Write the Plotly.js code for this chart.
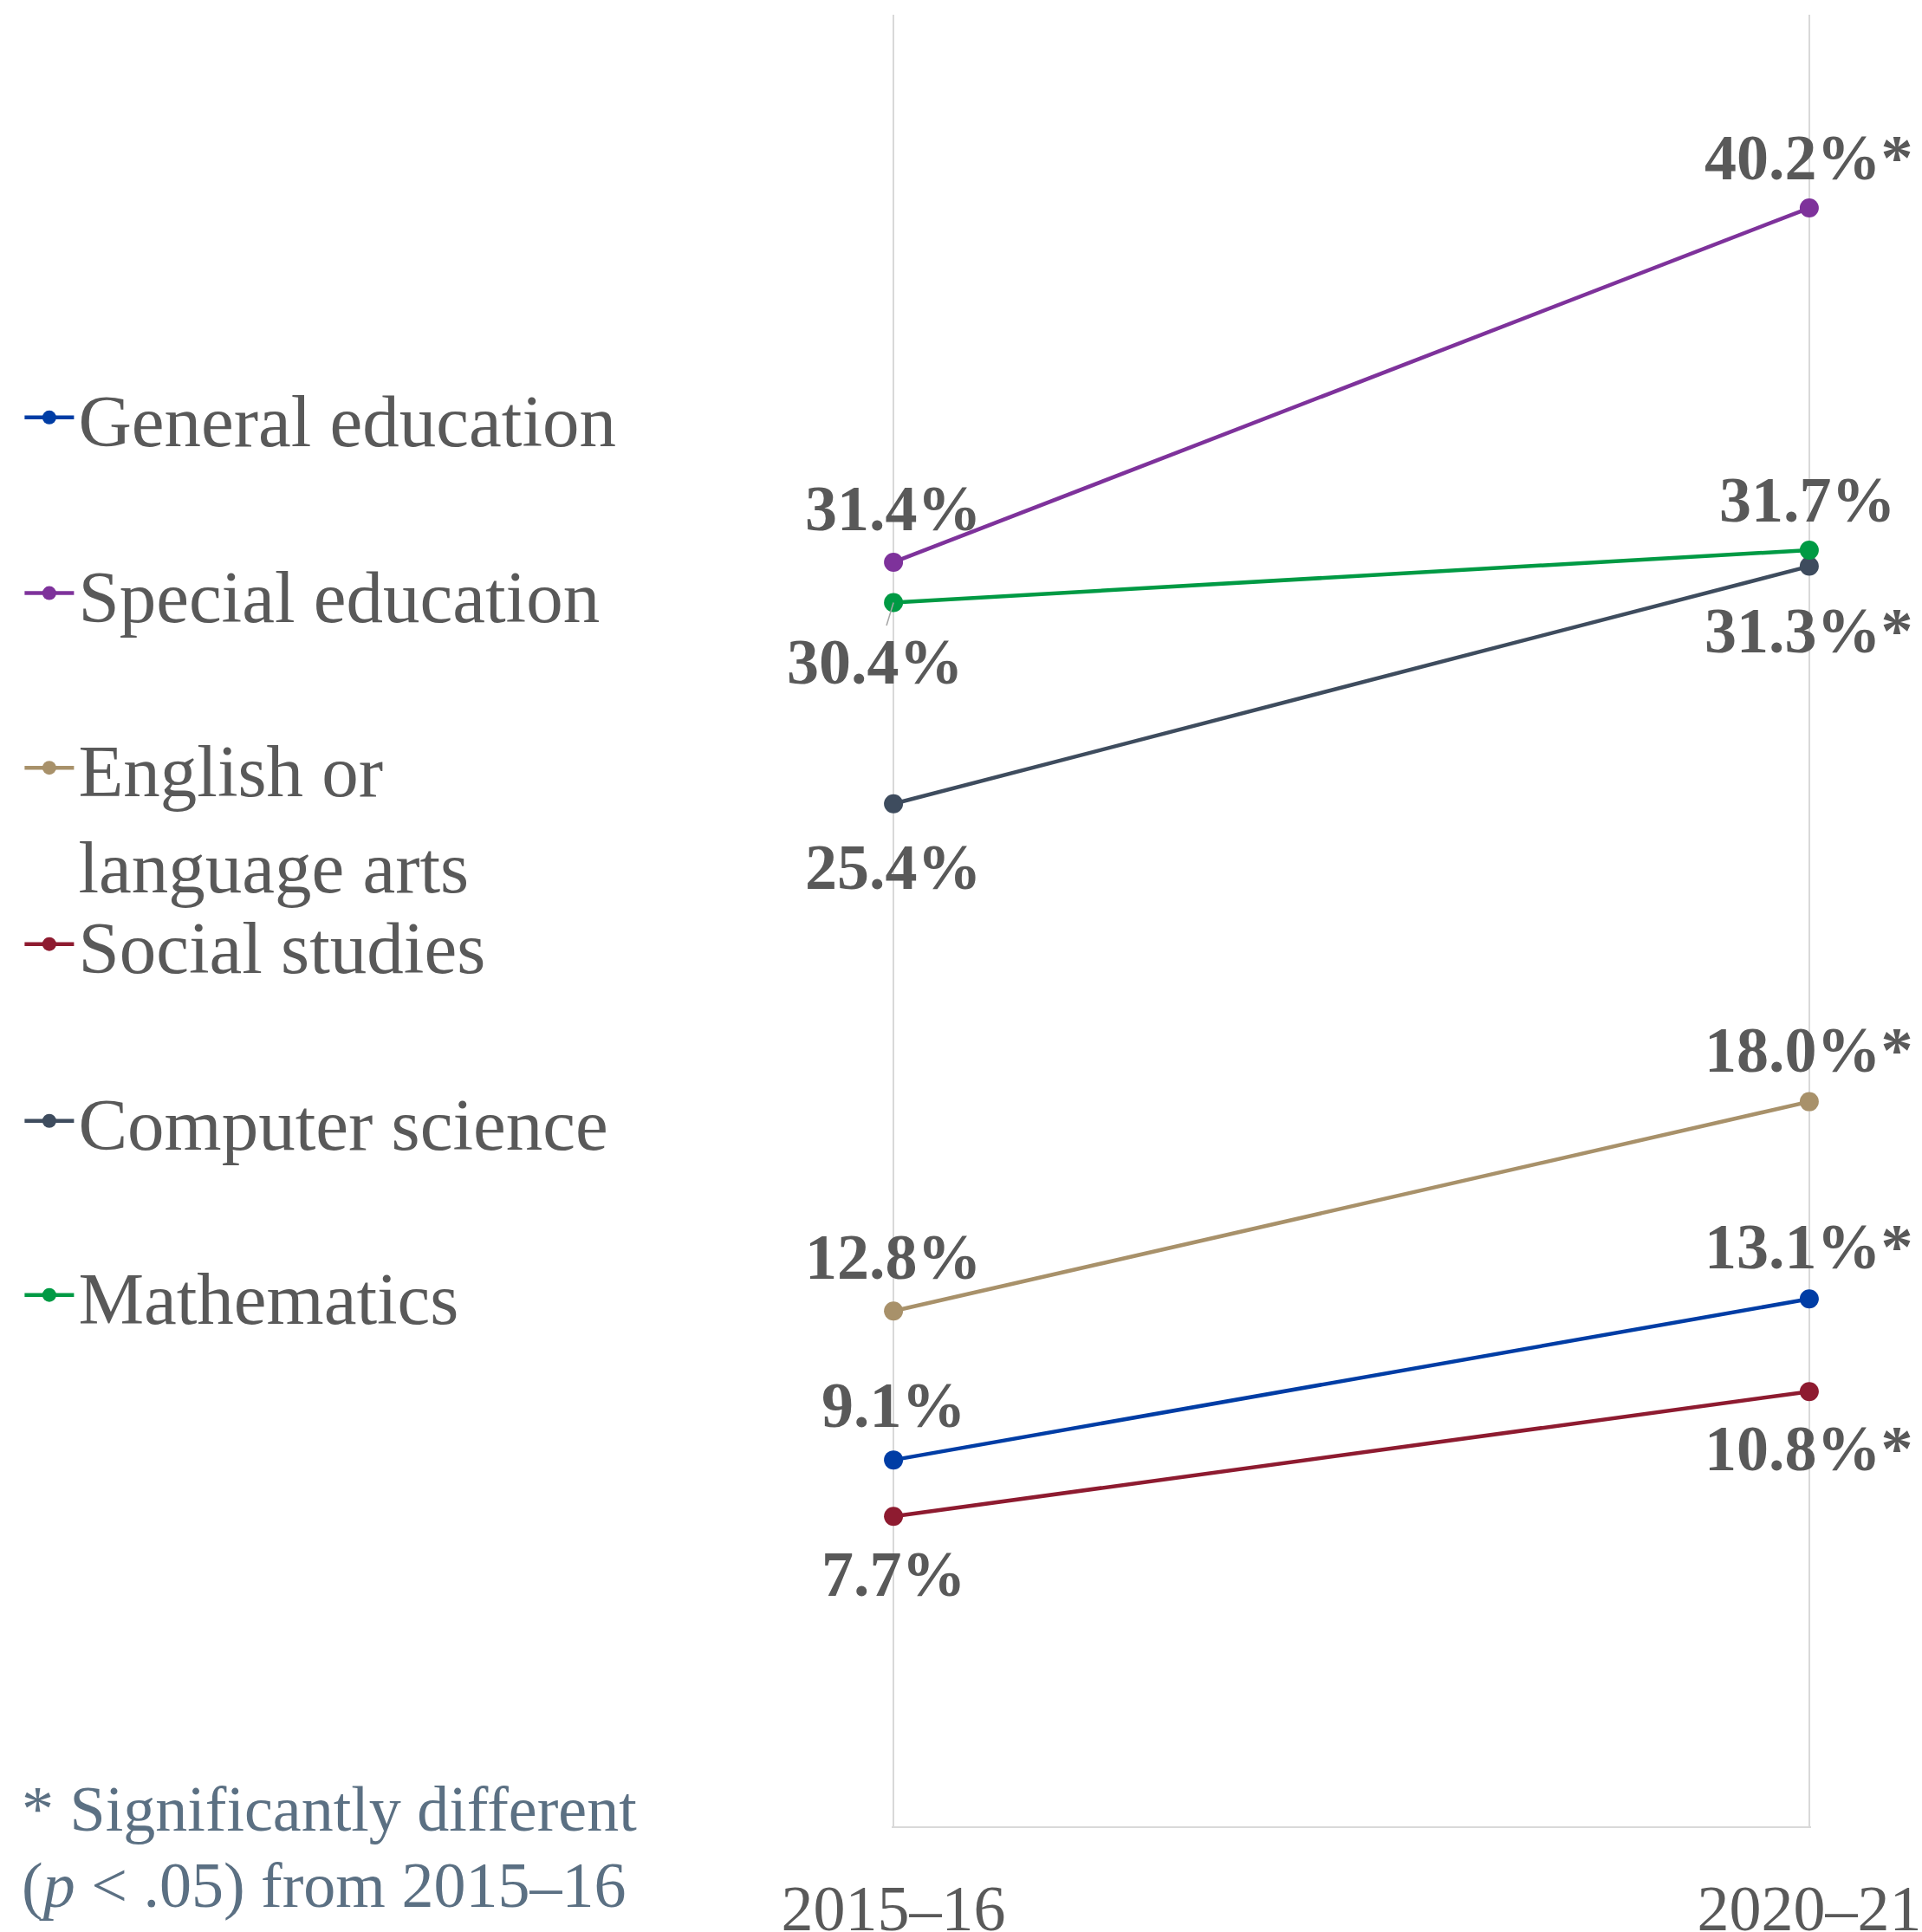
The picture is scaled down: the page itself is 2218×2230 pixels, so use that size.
<!DOCTYPE html>
<html>
<head>
<meta charset="utf-8">
<script src="https://cdn.plot.ly/plotly-3.0.1.min.js"></script>
<style>html,body{margin:0;padding:0;background:#fff;}#chart{width:2218px;height:2230px;}</style>
</head>
<body>
<div id="chart"></div>
<script>
// ---- Data ----
const years = ['2015–16', '2020–21'];
const seriesNames = ['General education', 'Special education', 'English or<br>language arts', 'Social studies', 'Computer science', 'Mathematics'];
const generalEducation = [9.1, 13.1];
const specialEducation = [31.4, 40.2];
const englishLanguageArts = [12.8, 18.0];
const socialStudies = [7.7, 10.8];
const computerScience = [25.4, 31.3];
const mathematics = [30.4, 31.7];
// significantly different from 2015–16 (marked with *)
const sigGeneral = [false, true];
const sigSpecial = [false, true];
const sigEnglish = [false, true];
const sigSocial = [false, true];
const sigComputer = [false, true];
const sigMath = [false, false];
const footnoteLines = ['* Significantly different', '(<i>p</i> < .05) from 2015–16'];

// ---- Styles ----
const values = [generalEducation, specialEducation, englishLanguageArts, socialStudies, computerScience, mathematics];
const sigs = [sigGeneral, sigSpecial, sigEnglish, sigSocial, sigComputer, sigMath];
const colors = ['#003DA5', '#7E329B', '#A8916A', '#8E1B30', '#3E4C5E', '#009A44'];
// label placement per point: [xshift, yshift] in px
const labelShift = [
  [[0, 63], [0, 60]],
  [[0, 62], [0, 58]],
  [[0, 62], [0, 60]],
  [[0, -67], [0, -66]],
  [[0, -73], [0, -74]],
  [[-21, -69], [-2, 58]]
];
// label with leader line (series, point)
const leader = [5, 0];
const legendY = [0.7776, 0.6806, 0.5579, 0.4869, 0.3893, 0.2932];
const legendIds = ['legend', 'legend2', 'legend3', 'legend4', 'legend5', 'legend6'];
const FONT = '"Liberation Serif", "Times New Roman", Times, serif';
const TEXT = '#595959';

const traces = values.map((v, i) => ({
  type: 'scatter',
  mode: 'lines+markers',
  x: years,
  y: v,
  name: seriesNames[i],
  legend: legendIds[i],
  line: {color: colors[i], width: 4.5},
  marker: {color: colors[i], size: 22},
  cliponaxis: false,
  hoverinfo: 'skip'
}));

const annotations = [];
values.forEach((v, i) => {
  v.forEach((val, j) => {
    const txt = val.toFixed(1) + '%' + (sigs[i][j] ? '*' : '');
    const [xs, ys] = labelShift[i][j];
    const isLeader = (leader[0] === i && leader[1] === j);
    const a = {
      x: years[j], y: val, xref: 'x', yref: 'y',
      text: txt,
      font: {family: FONT, size: 74, color: TEXT, weight: 'bold'},
      xanchor: 'center', yanchor: 'middle'
    };
    if (isLeader) {
      a.showarrow = true; a.ax = xs; a.ay = -ys; a.arrowhead = 0;
      a.arrowwidth = 1.5; a.arrowcolor = '#a6a6a6'; a.standoff = 0;
    } else {
      a.showarrow = false; a.xshift = xs; a.yshift = ys;
    }
    annotations.push(a);
  });
});
annotations.push({
  xref: 'paper', yref: 'paper', x: -0.9484, y: 0.0096, xanchor: 'left', yanchor: 'middle',
  text: footnoteLines[0], showarrow: false,
  font: {family: FONT, size: 74, color: '#5B7083'}
});
annotations.push({
  xref: 'paper', yref: 'paper', x: -0.9484, y: -0.0325, xanchor: 'left', yanchor: 'middle',
  text: footnoteLines[1], showarrow: false,
  font: {family: FONT, size: 74, color: '#5B7083'}
});

const layout = {
  width: 2218, height: 2230,
  margin: {l: 1029, r: 128, t: 17, b: 122, pad: 0},
  paper_bgcolor: '#ffffff', plot_bgcolor: '#ffffff',
  font: {family: FONT, color: TEXT},
  showlegend: true,
  xaxis: {
    type: 'category', range: [-0.002, 1.002],
    showgrid: true, gridcolor: '#d9d9d9', gridwidth: 2,
    showline: true, linecolor: '#d9d9d9', linewidth: 2,
    ticks: '', zeroline: false,
    tickfont: {family: FONT, size: 74, color: TEXT},
    ticklabelstandoff: 29
  },
  yaxis: {
    range: [0, 45], showgrid: false, zeroline: false, showline: false,
    showticklabels: false, ticks: ''
  },
  annotations: annotations
};
legendIds.forEach((id, i) => {
  layout[id] = {
    x: -0.9478, xanchor: 'left', y: legendY[i], yanchor: 'middle',
    bgcolor: 'rgba(0,0,0,0)', borderwidth: 0,
    font: {family: FONT, size: 85, color: TEXT},
    itemwidth: 57, valign: 'top', itemclick: false, itemdoubleclick: false
  };
});

Plotly.newPlot('chart', traces, layout, {staticPlot: true, displayModeBar: false});
</script>
</body>
</html>
